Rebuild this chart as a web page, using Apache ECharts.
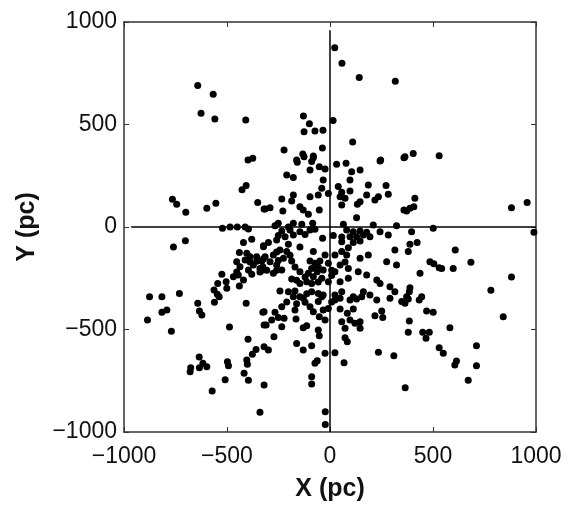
<!DOCTYPE html>
<html><head><meta charset="utf-8">
<script src="https://cdn.jsdelivr.net/npm/echarts@6/dist/echarts.min.js"></script>
<style>html,body{margin:0;padding:0;background:#fff}#c{width:570px;height:517px}</style>
</head><body><div id="c"></div>
<script>
// Axis ticks
var tickValues = [-1000, -500, 0, 500, 1000];
var xName = 'X (pc)';
var yName = 'Y (pc)';
// Crosshair lines through origin
var hLine = [[-965, 0], [1000, 0]];
var vLine = [[0, -1000], [0, 960]];
// Star positions (pc)
var outerNorth = [[-642,690],[-567,648],[-626,555],[-559,527],[-409,522],[-375,335],[-398,327],
 [23,875],[58,799],[142,729],[317,711],[-129,542],[-100,504],[15,519],[-126,465],[-73,468],[-34,472],
 [110,415],[-223,376],[-132,356],[-37,385],[-81,338],[246,327],[359,338],[-162,327],
 [364,343],[404,358],[530,348]];
var westSide = [[-407,202],[-427,182],[-765,135],[-744,111],[-700,72],[-598,91],[-554,116],[-351,120],[-320,88],
 [-522,-6],[-485,0],[-450,0],[-412,0],[-396,-10],[-380,-60],[-420,-75],[-323,-91],[-702,-67],[-760,-98],
 [-440,-124],[-404,-128],[-388,-145],[-356,-145],[-331,-166],[-372,-185],[-396,-210],[-340,-202],[-380,-231],
 [-453,-169],[-437,-194],[-412,-161],[-326,-210],[-525,-231],[-469,-243],[-445,-234],[-420,-259],[-545,-275],
 [-504,-267],[-501,-299],[-440,-288],[-563,-307],[-547,-328],[-876,-340],[-816,-340],[-731,-324]];
var southWest = [[-642,-372],[-561,-367],[-538,-340],[-634,-410],[-622,-429],[-816,-416],[-792,-405],[-886,-454],
 [-770,-508],[-407,-372],[-326,-416],[-320,-478],[-488,-488],[-398,-548],[-359,-597],[-377,-621],[-320,-584],
 [-635,-634],[-676,-687],[-679,-706],[-634,-687],[-617,-665],[-598,-682],[-498,-657],[-493,-677],[-404,-649],
 [-401,-670],[-417,-714],[-396,-748],[-509,-745],[-572,-800],[-320,-771],[-340,-904]];
var southCentral = [[-320,-413],[-267,-416],[-234,-389],[-310,-478],[-283,-454],[-251,-442],[-223,-445],[-234,-486],
 [-272,-535],[-299,-600],[-178,-340],[-146,-340],[-170,-405],[-165,-449],[-121,-367],[-97,-389],[-81,-413],
 [-57,-364],[-40,-340],[-33,-405],[-52,-438],[-24,-454],[-8,-397],[-57,-503],[-52,-530],[-130,-491],[-113,-482],
 [-162,-568],[-130,-600],[-89,-579],[-24,-616],[-62,-652],[-73,-665],[-89,-730],[-89,-766],[-23,-901],[-23,-963],
 [24,-613],[68,-662],[24,-356],[49,-348],[97,-356],[129,-351],[154,-340],[49,-400],[113,-400],[84,-421],[57,-462],
 [97,-454],[121,-470],[146,-462],[73,-494],[146,-494],[73,-540],[84,-560],[227,-356],[291,-348],[218,-433],
 [251,-410],[256,-442],[235,-611],[310,-628],[365,-784],[348,-364]];
var southEast = [[364,-372],[380,-351],[433,-356],[445,-340],[469,-410],[501,-416],[385,-459],[380,-514],[450,-514],
 [482,-514],[466,-543],[582,-491],[841,-438],[530,-589],[550,-616],[711,-579],[614,-654],[606,-673],[711,-677],[671,-747]];
var eastSide = [[412,140],[407,99],[372,78],[388,91],[881,94],[957,120],[396,-23],[501,-6],[990,-26],[388,-84],
 [423,-75],[380,-120],[608,-112],[485,-169],[504,-179],[530,-199],[542,-202],[598,-202],[684,-172],[437,-226],
 [881,-244],[388,-296],[385,-316],[372,-340],[781,-309]];
var centre = [[-159,316],[-126,343],[-89,319],[-81,346],[-52,294],[-24,283],[-97,278],[-210,254],[-178,241],[-33,229],
 [-40,189],[-57,156],[-97,148],[-178,156],[-186,127],[-234,137],[-291,94],[-315,88],[-229,78],[-146,99],[-130,83],
 [-105,62],[-52,83],[-8,164],[-84,18],[-137,13],[-178,18],[-251,18],[-267,6],
 [32,306],[78,311],[105,270],[146,278],[97,229],[243,322],[186,205],[272,202],[40,197],[57,169],[49,148],[73,140],
 [97,176],[133,111],[146,123],[178,156],[218,132],[235,148],[283,160],[57,107],[129,45],[210,10],[65,13],[323,6],[359,83],
 [-234,-20],[-194,-15],[-146,-23],[-97,-15],[-218,-47],[-178,-39],[-121,-36],[-259,-63],[-299,-75],[-202,-84],
 [-323,-96],[-243,-112],[-210,-120],[-275,-137],[-315,-145],[-226,-153],[-186,-166],[-291,-169],[-259,-185],
 [-326,-194],[-234,-210],[-275,-226],[-36,-55],[-81,-120],[-97,-166],[-73,-177],[-49,-166],[-89,-202],[-62,-218],
 [-33,-210],[-105,-226],[-81,-243],[-40,-250],[-146,-218],[-186,-254],[-146,-275],[-113,-267],[-8,-177],[-24,-137],
 [-8,-267],[-202,-316],[-170,-312],[-89,-316],[-57,-324],[-33,-332],[-130,-348],[-243,-312],
 [81,-15],[113,-23],[146,-20],[178,-26],[129,-47],[162,-39],[97,-47],[194,-47],[243,-23],[283,-39],[57,-72],
 [113,-75],[146,-68],[89,-101],[57,-120],[24,-137],[81,-137],[146,-153],[186,-137],[315,-112],[275,-169],[323,-185],
 [49,-185],[89,-202],[24,-218],[137,-218],[178,-234],[227,-259],[243,-275],[49,-267],[89,-250],[291,-291],[315,-316],
 [57,-316],[162,-316],[24,-332],[113,-340],[194,-332]];
var centreDense = [[-202,0],[-73,-11],[16,-41],[57,-49],[-251,-41],[-146,-98],[-259,-122],[-194,-138],[-388,-171],
 [-356,-167],[-323,-155],[-251,-163],[-170,-195],[-57,-195],[8,-211],[73,-171],[-453,-220],[-340,-220],[-307,-211],
 [-259,-211],[-162,-260],[-121,-244],[-89,-276],[-57,-268],[8,-236],[-113,-325],[-210,-366],[-162,-374],[8,-366]];

var stars = [].concat(outerNorth, westSide, southWest, southCentral, southEast, eastSide, centre, centreDense);

var FONT = 'Liberation Sans';
function fmt(v){ return String(v).replace('-', '\u2212'); }
var frame = {show:true, onZero:false, lineStyle:{color:'#333', width:1.5}};
function axis(dim, pos, labels, name){
  var a = {type:'value', min:-1000, max:1000, interval:500, position:pos,
    axisLine: frame, splitLine:{show:false},
    axisTick:{show:true, inside:true, length:5, lineStyle:{color:'#333', width:1}},
    axisLabel:{show:labels, formatter:fmt, fontFamily:FONT, fontSize:23, color:'#111', margin: dim==='x'?13:7}};
  if (name) {
    a.name = name; a.nameLocation = 'middle';
    a.nameTextStyle = {fontFamily:FONT, fontWeight:'bold', fontSize:25, color:'#111'};
    a.nameGap = dim==='x' ? 45 : 84;
  }
  return a;
}
var chart = echarts.init(document.getElementById('c'), null, {renderer:'canvas'});
chart.setOption({
  animation:false,
  backgroundColor:'#fff',
  grid:{left:124, right:34, top:22, bottom:85},
  xAxis:[axis('x','bottom',true,xName), axis('x','top',false)],
  yAxis:[axis('y','left',true,yName), axis('y','right',false)],
  series:[
    {type:'line', data:hLine, symbol:'none', lineStyle:{color:'#000', width:1.5}, silent:true},
    {type:'line', data:vLine, symbol:'none', lineStyle:{color:'#000', width:1.5}, silent:true},
    {type:'scatter', data:stars, symbolSize:7, itemStyle:{color:'#000', opacity:1}}
  ]
});
</script></body></html>
